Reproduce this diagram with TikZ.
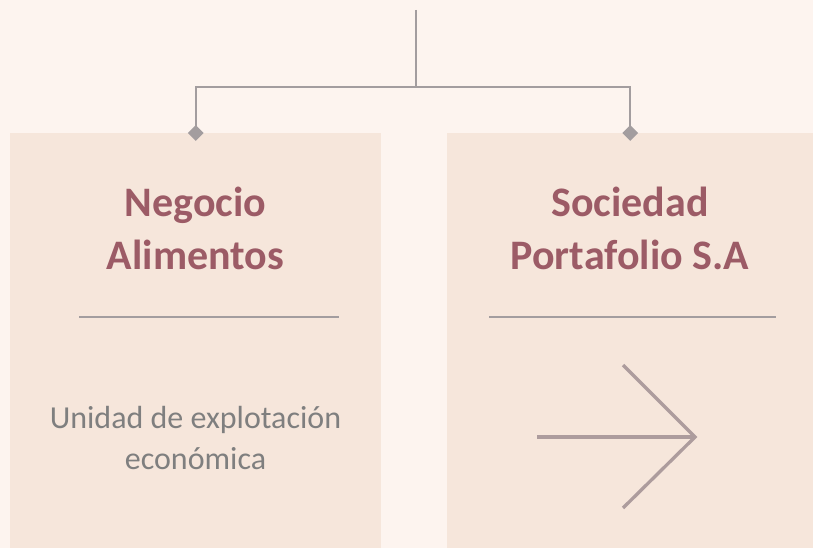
\documentclass[tikz,border=0pt]{standalone}
\usepackage{fontspec}
\setmainfont{Carlito}
\usetikzlibrary{shapes.geometric}
\definecolor{bgpink}{HTML}{FDF4EF}
\definecolor{boxpink}{HTML}{F6E6DB}
\definecolor{titlered}{HTML}{9C5B66}
\definecolor{linegray}{HTML}{A39D9F}
\definecolor{textgray}{HTML}{7F7F7F}
\definecolor{arrowgray}{HTML}{AD9C9D}
\begin{document}
\begin{tikzpicture}[x=1pt,y=-1pt,
    panel/.style={fill=boxpink,anchor=north west,inner sep=0pt,minimum height=415pt},
    title/.style={text=titlered,font=\fontsize{42}{53}\selectfont\bfseries,align=center,inner sep=0pt},
    body/.style={text=textgray,font=\fontsize{32}{41}\selectfont,align=center,inner sep=0pt},
    conn/.style={draw=linegray,line width=2.2pt},
    marker/.style={diamond,fill=linegray,minimum width=16pt,minimum height=16pt,inner sep=0pt}]
    \useasboundingbox (0,0) rectangle (813,548);
    \fill[bgpink] (0,0) rectangle (813,548);
    % the two panels
    \node[panel,minimum width=371pt] (left) at (10,133) {};
    \node[panel,minimum width=366pt] (right) at (447,133) {};
    % tree connector
    \coordinate (top) at (416,10);
    \coordinate (fork) at (416,87);
    \draw[conn] (top) -- (fork);
    \draw[conn] (left.north) |- (fork) -| (right.north);
    \node[marker] (leftmark) at (left.north) {};
    \node[marker] (rightmark) at (right.north) {};
    % titles
    \node[title] (lefttitle) at (195.5,228) {Negocio\\Alimentos};
    \node[title] (righttitle) at (630,228) {Sociedad\\Portafolio S.A};
    \draw[linegray,line width=2pt] (79,317) -- (339,317);
    \draw[linegray,line width=2pt] (489,317) -- (776,317);
    % bottom contents
    \node[body] (leftbody) at (195.5,438) {Unidad de explotación\\económica};
    \draw[arrowgray,line width=3.3pt] (537,437) -- (695,437);
    \draw[arrowgray,line width=3.3pt] (623,365) -- (695,437) -- (623,508);
\end{tikzpicture}
\end{document}
